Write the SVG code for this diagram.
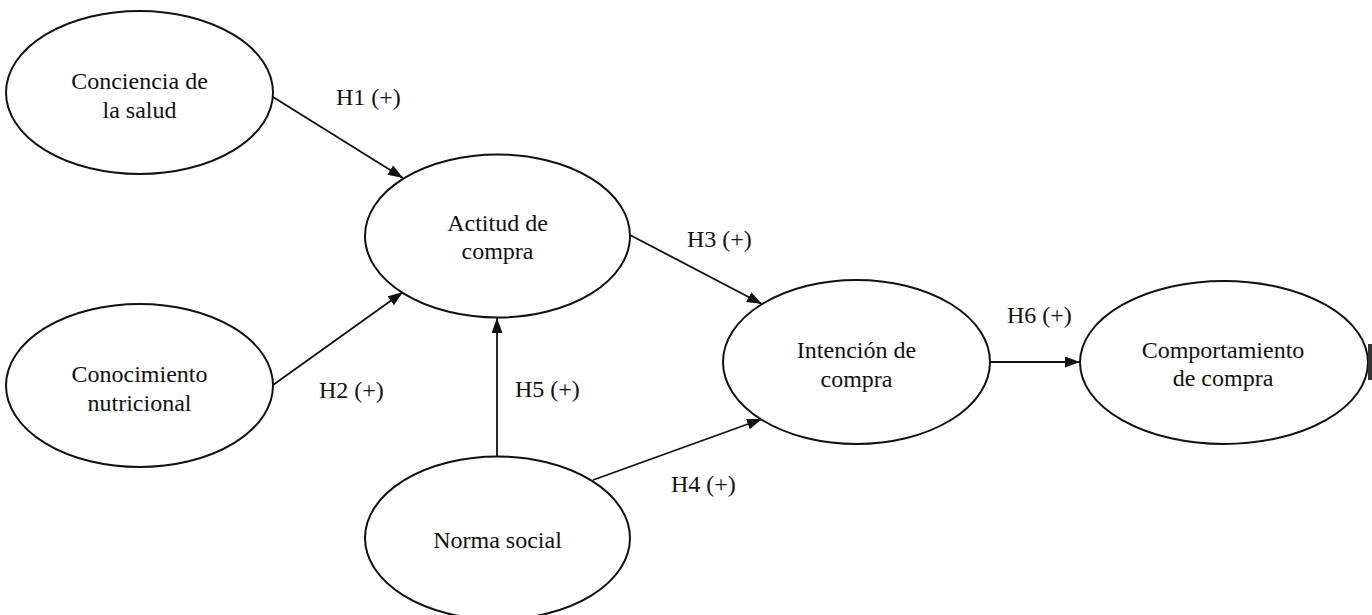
<svg xmlns="http://www.w3.org/2000/svg" width="1372" height="615" viewBox="0 0 1372 615">
<style>
.node ellipse{fill:#fff;stroke:#111;stroke-width:2}
text{font-family:'Liberation Serif','Tinos','Times New Roman','DejaVu Serif',serif;font-size:24px;fill:#111}
.node text{text-anchor:middle}
.conn line{stroke:#111;stroke-width:1.8;marker-end:url(#arr)}
</style>
<defs>
<marker id="arr" markerUnits="userSpaceOnUse" markerWidth="15" markerHeight="11" refX="15" refY="5.5" orient="auto">
<path d="M0,0 L15,5.5 L0,11 z" fill="#111"/>
</marker>
</defs>
<rect width="1372" height="615" fill="#fff"/>
<g id="connectors" class="conn">
<line x1="273" y1="97" x2="403" y2="178"/>
<line x1="273" y1="385" x2="403" y2="292"/>
<line x1="630" y1="235" x2="762" y2="304"/>
<line x1="497" y1="457" x2="497" y2="318"/>
<line x1="593" y1="480" x2="762" y2="419"/>
<line x1="990" y1="362" x2="1080" y2="362"/>
</g>
<g id="labels">
<text x="336" y="105">H1 (+)</text>
<text x="319" y="398">H2 (+)</text>
<text x="687" y="247">H3 (+)</text>
<text x="671" y="492">H4 (+)</text>
<text x="515" y="397">H5 (+)</text>
<text x="1007" y="323">H6 (+)</text>
</g>
<g id="conciencia" class="node">
<ellipse cx="139.5" cy="92.5" rx="133.5" ry="81.5"/>
<text x="139.5" y="88.5">Conciencia de</text>
<text x="139.5" y="117.5">la salud</text>
</g>
<g id="conocimiento" class="node">
<ellipse cx="139.5" cy="385.5" rx="133.5" ry="81.5"/>
<text x="139.5" y="381.5">Conocimiento</text>
<text x="139.5" y="410.5">nutricional</text>
</g>
<g id="actitud" class="node">
<ellipse cx="497.5" cy="236" rx="132.5" ry="81.5"/>
<text x="497.5" y="231">Actitud de</text>
<text x="497.5" y="259">compra</text>
</g>
<g id="norma" class="node">
<ellipse cx="497.5" cy="538" rx="132.5" ry="81.5"/>
<text x="497.5" y="548">Norma social</text>
</g>
<g id="intencion" class="node">
<ellipse cx="856.5" cy="362" rx="133.5" ry="82"/>
<text x="856.5" y="358">Intención de</text>
<text x="856.5" y="386.5">compra</text>
</g>
<g id="comportamiento" class="node">
<ellipse cx="1224" cy="362.5" rx="144" ry="81.5"/>
<text x="1223" y="357.5">Comportamiento</text>
<text x="1223" y="385.5">de compra</text>
</g>
<rect x="1368" y="344" width="4" height="36" fill="#333"/>
</svg>
